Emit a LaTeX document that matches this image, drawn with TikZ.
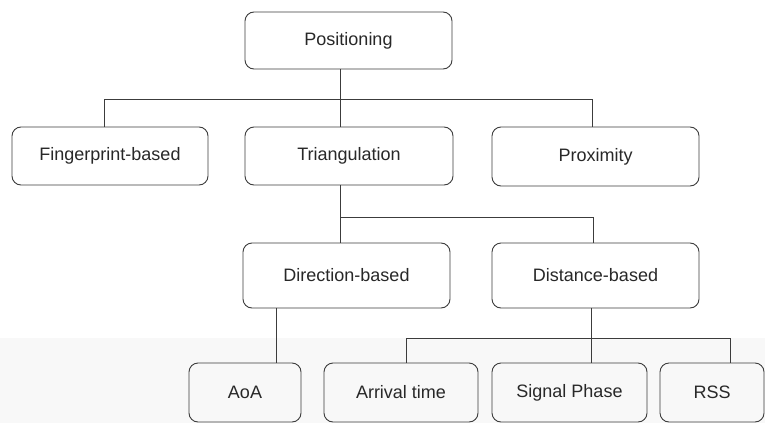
\documentclass[tikz,border=0pt]{standalone}
\usepackage{fontspec}
\setmainfont{Liberation Sans}
\definecolor{bglow}{RGB}{248,248,248}
\definecolor{ink}{RGB}{60,60,60}
\definecolor{txt}{RGB}{40,40,40}
\begin{document}
\begin{tikzpicture}[x=1pt,y=-1pt,
  box/.style={draw=ink, line width=0.9pt, rounded corners=9pt, inner sep=0pt,
    text=txt, font=\fontsize{18}{20}\selectfont},
  conn/.style={draw=ink, line width=0.9pt}]
\fill[white] (0,0) rectangle (765,423);
\fill[bglow] (0,338) rectangle (765,423);
\useasboundingbox (0,0) rectangle (765,423);

% level 0
\node[box, minimum width=207pt, minimum height=57pt] (pos) at (348.5,40.5) {Positioning};
% level 1
\node[box, minimum width=196pt, minimum height=58pt] (fing) at (110,156) {Fingerprint-based};
\node[box, minimum width=208pt, minimum height=58pt] (tri) at (349,156) {Triangulation};
\node[box, minimum width=207pt, minimum height=59pt] (prox) at (595.5,156.5) {Proximity};
% level 2
\node[box, minimum width=207pt, minimum height=65pt] (dir) at (346.5,275.5) {Direction-based};
\node[box, minimum width=207pt, minimum height=65pt] (dist) at (595.5,275.5) {Distance-based};
% level 3
\node[box, minimum width=112pt, minimum height=59pt] (aoa) at (245,392.5) {AoA};
\node[box, minimum width=154pt, minimum height=59pt] (arr) at (401,392.5) {Arrival time};
\node[box, minimum width=155pt, minimum height=59pt] (sig) at (569.5,392.5) {Signal Phase};
\node[box, minimum width=104pt, minimum height=59pt] (rss) at (712,392.5) {RSS};

% bus coordinates
\coordinate (busA) at (340,99);
\coordinate (busB) at (340,217);
\coordinate (cL) at (406,338);
\coordinate (cR) at (730,338);

% connectors level 0 -> 1
\draw[conn] (pos.south -| busA) -- (tri.north -| busA);
\draw[conn] (fing.north -| 104,0) |- (busA);
\draw[conn] (prox.north -| 592,0) |- (busA);
% level 1 -> 2
\draw[conn] (tri.south -| busB) -- (dir.north -| busB);
\draw[conn] (busB) -| (dist.north -| 593,0);
% level 2 -> 3
\draw[conn] (dir.south -| 276,0) -- (aoa.north -| 276,0);
\draw[conn] (dist.south -| 591,0) -- (sig.north -| 591,0);
\draw[conn] (arr.north -| cL) -- (cL) -- (cR) -- (rss.north -| cR);
\end{tikzpicture}
\end{document}
